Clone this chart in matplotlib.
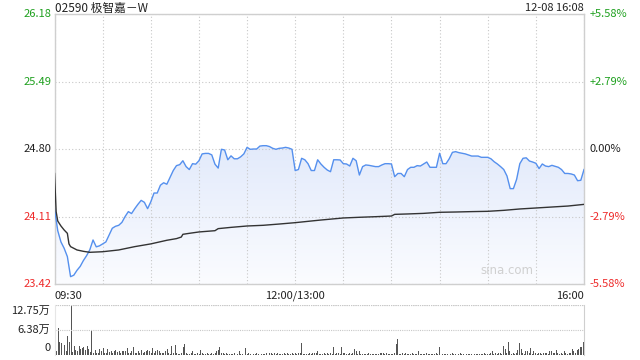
import numpy as np
import matplotlib
matplotlib.use("Agg")
import matplotlib.pyplot as plt
from matplotlib.colors import LinearSegmentedColormap

plt.rcParams['font.family'] = ['Noto Sans CJK SC', 'DejaVu Sans']

# chart data (minutes since 09:30, lunch break removed: 150 = 12:00/13:00)
title = "02590 极智嘉－W"
stamp = "12-08 16:08"
prev_close = 24.80
price_ticks = [23.42, 24.11, 24.80, 25.49, 26.18]
pct_labels = ["-5.58%", "-2.79%", "0.00%", "+2.79%", "+5.58%"]
time_ticks = [0, 150, 330]
time_labels = ["09:30", "12:00/13:00", "16:00"]

# price every 2 minutes
price = [
    24.19, 23.965, 23.85, 23.785, 23.70, 23.495, 23.51, 23.56, 23.60, 23.66,
    23.71, 23.77, 23.87, 23.80, 23.81, 23.83, 23.85, 23.92, 23.99, 24.01,
    24.02, 24.05, 24.11, 24.16, 24.14, 24.19, 24.235, 24.275, 24.255, 24.19,
    24.26, 24.35, 24.35, 24.43, 24.455, 24.44, 24.51, 24.58, 24.63, 24.64,
    24.68, 24.62, 24.59,
    24.65, 24.645, 24.68, 24.75, 24.755, 24.755, 24.74, 24.645, 24.605, 24.797,
    24.79, 24.69, 24.73, 24.70, 24.70, 24.72, 24.75, 24.817, 24.797, 24.80,
    24.80, 24.83, 24.834, 24.834, 24.825, 24.807, 24.797, 24.807, 24.81, 24.817,
    24.81, 24.797, 24.58, 24.59, 24.705, 24.69, 24.65, 24.58, 24.58, 24.69,
    24.647,
    24.613, 24.585, 24.568, 24.69, 24.69, 24.688, 24.65, 24.647, 24.626, 24.705,
    24.68, 24.534, 24.62, 24.637, 24.633, 24.626, 24.62, 24.62, 24.637, 24.65,
    24.65, 24.647, 24.517, 24.55, 24.55, 24.517, 24.59, 24.613, 24.613, 24.63,
    24.626, 24.647, 24.667, 24.613, 24.613, 24.613, 24.756, 24.65, 24.65, 24.70,
    24.766, 24.773,
    24.763, 24.756, 24.75, 24.739, 24.728, 24.728, 24.728, 24.715, 24.715, 24.715,
    24.70, 24.67, 24.647, 24.62, 24.59, 24.524, 24.395, 24.395, 24.49, 24.65,
    24.705, 24.71, 24.677, 24.667, 24.654, 24.60, 24.647, 24.626, 24.62, 24.633,
    24.623, 24.613, 24.59, 24.55, 24.55, 24.545, 24.534, 24.476, 24.48, 24.59,
]
price_t = np.arange(len(price)) * 2

# average price line
avg_t = [0, 1, 2, 4, 6, 8, 9, 10, 14, 18, 22, 26, 30, 40, 50, 60, 70, 76, 79, 80,
         84, 90, 100, 102, 110, 120, 130, 140, 150, 160, 166, 180, 190, 200, 210,
         212, 220, 230, 240, 250, 260, 270, 280, 290, 300, 310, 320, 330]
avg_v = [24.55, 24.16, 24.064, 24.013, 23.972, 23.938, 23.83, 23.802, 23.768,
         23.754, 23.744, 23.747, 23.75, 23.768, 23.802, 23.83, 23.867, 23.884,
         23.90, 23.928, 23.938, 23.952, 23.965, 23.986, 23.999, 24.013, 24.02,
         24.033, 24.047, 24.064, 24.074, 24.095, 24.102, 24.108, 24.115, 24.132,
         24.136, 24.142, 24.153, 24.156, 24.16, 24.163, 24.173, 24.187, 24.197,
         24.207, 24.217, 24.234]

# volume per minute, in 万 shares
volume = [
    3.3, 0.9, 6.9, 3.4, 3.1, 3.8, 2.5, 1.0, 4.9, 3.2,
    12.75, 0.7, 2.3, 1.3, 1.1, 2.4, 1.5, 1.9, 2.0, 1.3,
    2.3, 1.5, 0.8, 6.4, 0.6, 1.3, 0.4, 0.5, 1.5, 0.9,
    1.7, 0.6, 0.4, 1.5, 0.7, 0.9, 0.5, 1.0, 1.3, 0.7,
    0.9, 0.6, 1.0, 1.0, 1.0, 1.9, 0.6, 0.4, 0.9, 2.0,
    0.6, 0.4, 1.1, 0.4, 1.3, 0.6, 0.7, 1.0, 1.3, 0.9,
    0.4, 1.7, 0.6, 0.9, 1.3, 1.0, 0.6, 0.4, 0.6, 0.9,
    1.5, 0.6, 0.3, 2.3, 0.4, 2.6, 0.4, 0.3, 0.3, 0.6,
    2.1, 2.7, 0.4, 0.3, 0.2, 0.4, 1.0, 0.3, 0.2, 0.4,
    0.3, 1.3, 0.4, 0.2, 0.3, 0.5, 0.3, 0.2, 0.4, 0.3,
    0.5, 1.1, 1.3, 2.1, 0.6, 0.4, 0.3, 0.5, 0.2, 0.3,
    0.3, 0.2, 0.4, 0.3, 0.2, 0.9, 0.3, 0.2, 0.4, 1.9,
    0.3, 0.4, 0.2, 0.3, 0.2, 0.3, 0.4, 0.2, 0.3, 0.2,
    0.3, 0.2, 0.4, 0.3, 0.5, 0.4, 0.3, 0.6, 0.3, 0.4,
    0.2, 0.3, 0.2, 0.4, 0.3, 0.5, 0.3, 0.2, 0.4, 0.3,
    0.6, 0.3, 0.4, 0.5, 3.0, 0.3, 0.2, 0.3, 0.2, 0.4,
    0.3, 0.5, 0.4, 0.6, 1.1, 0.3, 0.2, 0.3, 0.4, 0.3,
    0.5, 0.3, 0.4, 0.3, 2.1, 0.3, 0.4, 0.6, 0.3, 2.1,
    0.4, 0.5, 0.3, 0.2, 0.4, 0.3, 0.5, 1.5, 0.9, 0.3,
    1.0, 0.3, 0.2, 0.3, 0.2, 0.3, 0.4, 0.2, 0.3, 0.2,
    0.3, 0.2, 0.3, 0.4, 0.5, 0.6, 0.3, 0.5, 0.2, 0.3,
    0.2, 0.3, 0.4, 2.7, 4.0, 0.3, 0.2, 0.4, 0.3, 0.6,
    0.3, 0.2, 0.3, 0.4, 0.2, 0.3, 0.2, 0.9, 0.3, 0.2,
    0.3, 0.2, 0.4, 0.3, 0.2, 0.3, 0.2, 0.3, 0.4, 0.2,
    2.1, 0.3, 0.2, 0.3, 0.2, 0.3, 0.2, 0.3, 0.4, 0.3,
    0.2, 0.3, 0.2, 0.4, 0.3, 0.2, 0.3, 0.2, 0.3, 0.2,
    0.3, 0.4, 0.3, 0.2, 0.3, 0.2, 0.3, 0.2, 0.4, 0.3,
    0.3, 0.2, 0.4, 0.9, 0.3, 0.4, 0.3, 0.5, 0.4, 0.3,
    2.4, 1.5, 0.4, 3.2, 0.9, 0.3, 0.4, 0.3, 0.6, 1.3,
    3.0, 1.5, 0.4, 0.3, 0.9, 1.0, 0.4, 1.7, 0.3, 1.1,
    0.6, 0.3, 0.5, 0.4, 0.3, 0.6, 0.4, 0.5, 0.3, 0.9,
    1.0, 0.4, 0.6, 1.3, 0.5, 0.3, 0.4, 0.3, 1.1, 0.4,
    0.3, 0.6, 0.4, 1.5, 1.0, 0.4, 1.3, 1.5, 2.1, 2.1,
    3.3,
]
vol_ticks = [0, 6.38, 12.75]
vol_labels = ["0", "6.38万", "12.75万"]

GREEN = "#1ea01e"
RED = "#ee2a2a"
GRID = "#c8c8c8"
LINE = "#5590ee"

fig = plt.figure(figsize=(6.4, 3.6), dpi=100)
ax = fig.add_axes([0.0852, 0.2111, 0.8273, 0.75])
axv = fig.add_axes([0.0852, 0.0139, 0.8273, 0.1389])

# main price panel
ax.set_xlim(0, 330)
ax.set_ylim(price_ticks[0], price_ticks[-1])
ax.set_yticks(price_ticks)
ax.set_xticks(np.arange(0, 331, 30))
ax.grid(True, color=GRID, linestyle=(0, (1, 2)), linewidth=0.8)
ax.tick_params(length=0, labelleft=False, labelbottom=False)
for s in ax.spines.values():
    s.set_color("#cfcfcf")
    s.set_linewidth(1.0)

poly = ax.fill_between(price_t, price, price_ticks[0], color="none", linewidth=0)
cmap = LinearSegmentedColormap.from_list("fill", ["#fbfcff", "#e2eafb"])
grad = np.linspace(0, 1, 256).reshape(-1, 1)
im = ax.imshow(grad, cmap=cmap, aspect="auto", origin="lower",
               extent=[0, 330, price_ticks[0], 24.85], zorder=1)
im.set_clip_path(poly.get_paths()[0], transform=ax.transData)

ax.plot(price_t, price, color=LINE, linewidth=1.0, zorder=3)
ax.plot(avg_t, avg_v, color="#333333", linewidth=1.0, zorder=3)

lab_colors = [RED, RED, "#222222", GREEN, GREEN]
for v, pl, c in zip(price_ticks, pct_labels, lab_colors):
    ax.text(-0.006, v, f"{v:.2f}", transform=ax.get_yaxis_transform(),
            ha="right", va="center", fontsize=8, color=c)
    ax.text(1.011, v, pl, transform=ax.get_yaxis_transform(),
            ha="left", va="center", fontsize=8, color=c)

for t, lab, ha in zip(time_ticks, time_labels, ["left", "center", "right"]):
    ax.text(t, -0.025, lab, transform=ax.get_xaxis_transform(),
            ha=ha, va="top", fontsize=8, color="#222222")

fig.text(0.086, 0.978, title, ha="left", va="center", fontsize=8.5, color="#222222")
fig.text(0.9125, 0.978, stamp, ha="right", va="center", fontsize=8, color="#222222")
ax.text(0.905, 0.025, "sina.com", transform=ax.transAxes, ha="right", va="bottom",
        fontsize=8.5, color="#d0d0d0", family=["DejaVu Sans"])

# volume panel
axv.bar(np.arange(len(volume)), volume, width=0.6, color="#555555", linewidth=0)
axv.set_xlim(-0.3, 330.3)
axv.set_ylim(0, vol_ticks[-1])
axv.set_yticks(vol_ticks[1:])
axv.set_xticks([])
axv.grid(True, axis="y", color=GRID, linestyle=(0, (1, 1)), linewidth=0.8)
axv.tick_params(length=0, labelleft=False)
axv.spines["top"].set_visible(False)
axv.spines["bottom"].set_visible(False)
axv.spines["left"].set_color("#e6e6e6")
axv.spines["right"].set_color("#cfcfcf")
axv.axhline(vol_ticks[-1], color=GRID, linestyle=(0, (1, 1)), linewidth=0.8)

vol_y = [0.13, 0.5, 0.88]
for y, lab in zip(vol_y, vol_labels):
    axv.text(-0.008, y, lab, transform=axv.transAxes, ha="right", va="center",
             fontsize=8, color="#222222")

fig.savefig("out.png", dpi=100)
